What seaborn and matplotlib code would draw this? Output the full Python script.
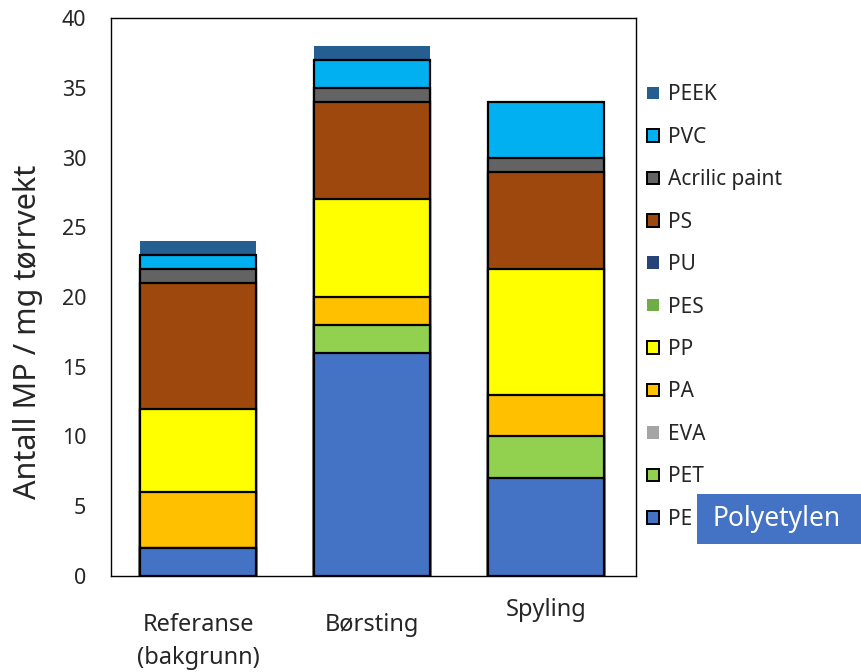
import numpy as np
import pandas as pd
import seaborn as sns
from matplotlib import pyplot as plt
from matplotlib.patches import Patch, Rectangle
import matplotlib.transforms as mtransforms

# data
sites = ["Referanse\n(bakgrunn)", "Børsting", "Spyling"]
polymers = ["PE", "PET", "EVA", "PA", "PP", "PES", "PU", "PS", "Acrilic paint", "PVC", "PEEK"]
pe = [2, 16, 7]
pet = [0, 2, 3]
eva = [0, 0, 0]
pa = [4, 2, 3]
pp = [6, 7, 9]
pes = [0, 0, 0]
pu = [0, 0, 0]
ps = [9, 7, 7]
acrilic = [1, 1, 1]
pvc = [1, 2, 4]
peek = [1, 1, 0]

colors = {
    "PE": "#4472C4", "PET": "#92D050", "EVA": "#A5A5A5", "PA": "#FFC000",
    "PP": "#FFFF00", "PES": "#70AD47", "PU": "#264478", "PS": "#9E480E",
    "Acrilic paint": "#636363", "PVC": "#00B0F0", "PEEK": "#255E91",
}
no_edge = ["EVA", "PES", "PU", "PEEK"]

df = pd.DataFrame(
    [pe, pet, eva, pa, pp, pes, pu, ps, acrilic, pvc, peek],
    index=polymers, columns=sites,
)
cum = df.cumsum()

sns.set_style("white")
plt.rcParams["font.family"] = ["Noto Sans", "DejaVu Sans"]
txt = "#262626"

fig = plt.figure(figsize=(8.62, 6.72), dpi=100)
ax = fig.add_axes([0.129, 0.143, 0.609, 0.830])

# draw cumulative layers from top down so lower segments cover upper ones
for name in polymers[::-1]:
    sns.barplot(
        x=sites, y=cum.loc[name].values, color=colors[name], ax=ax,
        width=0.667, saturation=1,
        edgecolor="none" if name in no_edge else "black",
        linewidth=0 if name in no_edge else 1.6,
    )

ax.set_ylim(0, 40)
ax.set_xlim(-0.5, 2.52)
ax.set_yticks(range(0, 41, 5))
ax.tick_params(axis="y", labelsize=15.5, length=0, pad=18, labelcolor=txt)
ax.tick_params(axis="x", labelsize=17, length=0, pad=27, labelcolor=txt)
for t in ax.get_xticklabels():
    t.set_linespacing(1.45)
ax.set_ylabel("Antall MP / mg tørrvekt", fontsize=22, color=txt)
ax.yaxis.set_label_coords(-0.13, 0.437)
for s in ax.spines.values():
    s.set_visible(True)
    s.set_color("black")
    s.set_linewidth(1.0)

# Spyling label sits a bit higher
lab = ax.get_xticklabels()[2]
lab.set_transform(lab.get_transform() + mtransforms.ScaledTranslation(0, 15 / 100, fig.dpi_scale_trans))

handles = [
    Patch(facecolor=colors[n], edgecolor="none" if n in no_edge else "black",
          linewidth=0 if n in no_edge else 1.4, label=n)
    for n in polymers[::-1]
]
leg = fig.legend(
    handles=handles, loc="upper left", bbox_to_anchor=(0.741, 0.887),
    frameon=False, fontsize=15, handlelength=0.55, handleheight=0.55,
    handletextpad=0.45, labelspacing=1.03, borderaxespad=0,
)
for t in leg.get_texts():
    t.set_color(txt)

fig.add_artist(Rectangle((0.8086, 0.1905), 0.1914, 0.0744, transform=fig.transFigure,
                         facecolor="#4472C4", edgecolor="none"))
fig.text(0.826, 0.2277, "Polyetylen", fontsize=19, color="white",
         ha="left", va="center")

plt.savefig("out.png", dpi=100)
plt.close()
